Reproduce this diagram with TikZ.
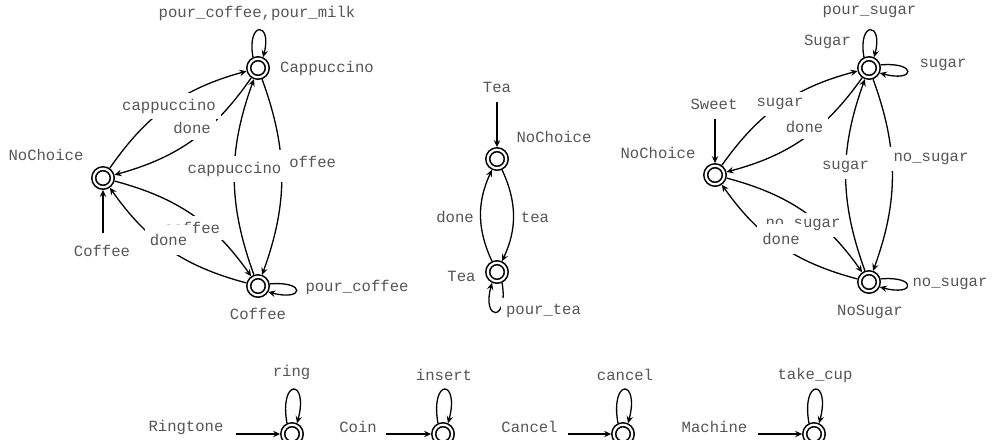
\documentclass[tikz,border=0pt]{standalone}
\usepackage{fontspec}
\setmonofont{Liberation Mono}
\usetikzlibrary{arrows.meta}
\definecolor{labelgrey}{HTML}{555555}

\tikzset{
  state/.style={circle, draw, double, double distance=2.2pt, line width=1.6pt,
    minimum size=18.5pt, inner sep=0pt, outer sep=2.7pt},
  lbl/.style={font=\ttfamily\fontsize{15.6}{18}\selectfont, text=labelgrey, inner sep=0pt},
  elbl/.style={lbl, fill=white, inner xsep=5pt, inner ysep=6pt},
  trans/.style={line width=1.3pt, -{Stealth[length=7pt,width=6.5pt,inset=2.5pt]}},
}

\begin{document}
\begin{tikzpicture}[x=1pt,y=-1pt]
\useasboundingbox (0,0) rectangle (992,439);

% ---------- coffee automaton ----------
\node[state] (c1n) at (103,178) {};
\node[state] (c1c) at (258,68) {};
\node[state] (c1f) at (258,286) {};
\coordinate (c1i) at (103,233);
\draw[trans] (c1i) -- (c1n);
\draw[trans] (c1n) to[bend left=20] (c1c);
\draw[trans] (c1c) to[bend left=20] (c1n);
\draw[trans] (c1n) to[bend left=20] (c1f);
\draw[trans] (c1f) to[bend left=20] (c1n);
\draw[trans] (c1c) to[bend left=20] (c1f);
\draw[trans] (c1f) to[bend left=20] (c1c);
\draw[trans] (c1c.115) .. controls +(100:37pt) and +(75:37pt) .. (c1c.65);
\draw[trans] (c1f.10) .. controls +(5:37pt) and +(-15:37pt) .. (c1f.-30);

\node[lbl] (c1nname) at (46,155) {NoChoice};
\node[lbl] (c1iname) at (102,251) {Coffee};
\node[lbl] (c1cname) at (327,68) {Cappuccino};
\node[lbl] (c1fname) at (258,314) {Coffee};
\node[elbl] (c1cloop) at (257,13) {pour\_coffee,pour\_milk};
\node[elbl] (c1floop) at (357,287) {pour\_coffee};
\node[elbl] (c1nc) at (169,106) {cappuccino};
\node[elbl] (c1cn) at (192,128) {done};
\node[elbl] (c1nf) at (192,228) {coffee};
\node[elbl, inner ysep=9pt] (c1fn) at (168.5,240) {done};
\node[elbl] (c1cf) at (308,162) {coffee};
\node[elbl, inner xsep=9pt] (c1fc) at (234.5,169) {cappuccino};

% ---------- tea automaton ----------
\node[state] (t1n) at (497,159) {};
\node[state] (t1t) at (497,272) {};
\coordinate (t1i) at (497,102);
\draw[trans] (t1i) -- (t1n);
\draw[trans] (t1n) to[bend left=25] (t1t);
\draw[trans] (t1t) to[bend left=25] (t1n);
\draw[trans] (t1t.-65) .. controls +(-80:40pt) and +(-105:40pt) .. (t1t.-115);

\node[lbl] (t1iname) at (497,87) {Tea};
\node[lbl] (t1nname) at (554,137) {NoChoice};
\node[lbl] (t1tname) at (461.5,276) {Tea};
\node[elbl] (t1tn) at (455,217) {done};
\node[elbl] (t1nt) at (535,217) {tea};
\node[elbl] (t1tloop) at (543.5,311) {pour\_tea};

% ---------- sugar automaton ----------
\node[state] (s1n) at (715,175) {};
\node[state] (s1s) at (869,68) {};
\node[state] (s1o) at (869,282) {};
\coordinate (s1i) at (715,119);
\draw[trans] (s1i) -- (s1n);
\draw[trans] (s1n) to[bend left=20] (s1s);
\draw[trans] (s1s) to[bend left=20] (s1n);
\draw[trans] (s1n) to[bend left=20] (s1o);
\draw[trans] (s1o) to[bend left=20] (s1n);
\draw[trans] (s1s) to[bend left=20] (s1o);
\draw[trans] (s1o) to[bend left=20] (s1s);
\draw[trans] (s1s.115) .. controls +(100:37pt) and +(75:37pt) .. (s1s.65);
\draw[trans] (s1s.15) .. controls +(5:37pt) and +(-15:37pt) .. (s1s.-25);
\draw[trans] (s1o.15) .. controls +(5:37pt) and +(-15:37pt) .. (s1o.-25);

\node[lbl] (s1iname) at (714,104) {Sweet};
\node[lbl] (s1nname) at (658,153) {NoChoice};
\node[lbl] (s1sname) at (827.5,42) {Sugar};
\node[lbl] (s1oname) at (870,312) {NoSugar};
\node[elbl] (s1sloopa) at (869.5,12) {pour\_sugar};
\node[elbl] (s1sloopb) at (943,65) {sugar};
\node[elbl] (s1oloop) at (950,284) {no\_sugar};
\node[elbl] (s1ns) at (780,104) {sugar};
\node[elbl] (s1sn) at (804.5,127) {done};
\node[elbl] (s1no) at (803,225) {no\_sugar};
\node[elbl, inner ysep=9.5pt] (s1on) at (781,239) {done};
\node[elbl] (s1so) at (931,159) {no\_sugar};
\node[elbl] (s1os) at (845.5,167) {sugar};

% ---------- one-state automata ----------
\node[state] (r1) at (292,434) {};
\coordinate (r1i) at (236,434);
\draw[trans] (r1i) -- (r1);
\draw[trans] (r1.115) .. controls +(100:46pt) and +(75:46pt) .. (r1.65);
\node[lbl] (r1name) at (186,427) {Ringtone};
\node[elbl] (r1loop) at (291.5,372) {ring};

\node[state] (k1) at (443,434) {};
\coordinate (k1i) at (386,434);
\draw[trans] (k1i) -- (k1);
\draw[trans] (k1.115) .. controls +(100:46pt) and +(75:46pt) .. (k1.65);
\node[lbl] (k1name) at (358,427) {Coin};
\node[elbl] (k1loop) at (444,375) {insert};

\node[state] (x1) at (623,434) {};
\coordinate (x1i) at (568,434);
\draw[trans] (x1i) -- (x1);
\draw[trans] (x1.115) .. controls +(100:46pt) and +(75:46pt) .. (x1.65);
\node[lbl] (x1name) at (529.5,427) {Cancel};
\node[elbl] (x1loop) at (625,375) {cancel};

\node[state] (m1) at (814,434) {};
\coordinate (m1i) at (758,434);
\draw[trans] (m1i) -- (m1);
\draw[trans] (m1.115) .. controls +(100:46pt) and +(75:46pt) .. (m1.65);
\node[lbl] (m1name) at (714.5,427) {Machine};
\node[elbl] (m1loop) at (815,375) {take\_cup};
\end{tikzpicture}
\end{document}
